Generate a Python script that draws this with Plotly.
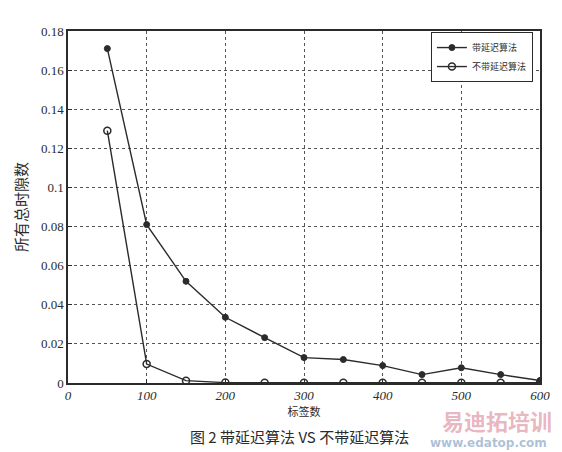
import plotly.graph_objects as go

x_tags = [50, 100, 150, 200, 250, 300, 350, 400, 450, 500, 550, 600]
with_delay = [0.171, 0.081, 0.052, 0.0336, 0.0232, 0.013, 0.012, 0.0089, 0.0043, 0.0078, 0.0043, 0.0013]
without_delay = [0.129, 0.0097, 0.0012, 0.0002, 0.0001, 0.0001, 0.0001, 0.0001, 0.0001, 0.0001, 0.0001, 0.0001]

y_tickvals = [0, 0.02, 0.04, 0.06, 0.08, 0.1, 0.12, 0.14, 0.16, 0.18]
y_ticktext = ["0", "0.02", "0.04", "0.06", "0.08", "0.1", "0.12", "0.14", "0.16", "0.18"]
x_tickvals = [0, 100, 200, 300, 400, 500, 600]
x_ticktext = ["<i>0</i>", "<i>100</i>", "<i>200</i>", "<i>300</i>", "<i>400</i>", "<i>500</i>", "<i>600</i>"]

series_names = ["带延迟算法", "不带延迟算法"]
x_title = "标签数"
y_title = "所有总时隙数"
caption = "图 2 带延迟算法 VS 不带延迟算法"

ink = "#2b2b2b"
serif = "Liberation Serif, DejaVu Serif, serif"
cjk = "Noto Sans CJK SC, sans-serif"

fig = go.Figure()
fig.add_trace(go.Scatter(
    x=x_tags, y=with_delay, mode="lines+markers", name=series_names[0],
    line=dict(color=ink, width=1.4),
    marker=dict(symbol="circle", size=6, color=ink, line=dict(color=ink, width=1)),
))
fig.add_trace(go.Scatter(
    x=x_tags, y=without_delay, mode="lines+markers", name=series_names[1],
    line=dict(color=ink, width=1.4),
    marker=dict(symbol="circle-open", size=7, color=ink, line=dict(color=ink, width=1.5)),
))

fig.update_layout(
    width=562, height=452,
    margin=dict(l=68, r=19, t=31, b=69),
    paper_bgcolor="white", plot_bgcolor="white",
    font=dict(family=serif, color=ink, size=12),
    showlegend=True,
    legend=dict(
        x=0.985, y=0.997, xanchor="right", yanchor="top",
        bgcolor="white", bordercolor=ink, borderwidth=1,
        font=dict(family=cjk, size=9, color=ink),
        itemwidth=30, tracegroupgap=0,
    ),
    xaxis=dict(
        range=[0, 600], tickvals=x_tickvals, ticktext=x_ticktext,
        showgrid=True, gridcolor="#555", griddash="dot", gridwidth=1,
        showline=True, linecolor=ink, linewidth=1.5, mirror=True,
        ticks="inside", ticklen=4, tickcolor=ink,
        zeroline=False,
        tickfont=dict(family=serif, size=13, color=ink),
        title=dict(text=x_title, font=dict(family=cjk, size=11, color=ink), standoff=6),
    ),
    yaxis=dict(
        range=[0, 0.18], tickvals=y_tickvals, ticktext=y_ticktext,
        showgrid=True, gridcolor="#555", griddash="dot", gridwidth=1,
        showline=True, linecolor=ink, linewidth=1.5, mirror=True,
        ticks="inside", ticklen=4, tickcolor=ink,
        zeroline=False,
        tickfont=dict(family=serif, size=13, color=ink),
        title=dict(text=y_title, font=dict(family=cjk, size=15, color=ink), standoff=10),
    ),
)

fig.add_annotation(
    text=caption, xref="paper", yref="paper", x=0.49, y=-0.153,
    xanchor="center", yanchor="middle", showarrow=False,
    font=dict(family=cjk, size=15, color=ink),
)
fig.add_annotation(
    text="<b>易迪拓培训</b>", xref="paper", yref="paper", x=1.03, y=-0.105,
    xanchor="right", yanchor="middle", showarrow=False,
    font=dict(family=cjk, size=22, color="rgba(214,120,140,0.55)"),
)
fig.add_annotation(
    text="<b>www.edatop.com</b>", xref="paper", yref="paper", x=1.02, y=-0.170,
    xanchor="right", yanchor="middle", showarrow=False,
    font=dict(family="DejaVu Sans, sans-serif", size=12, color="rgba(120,150,190,0.6)"),
)

fig.write_html("out.html", config={"displayModeBar": False},
               post_script="document.body.style.margin='0';")
